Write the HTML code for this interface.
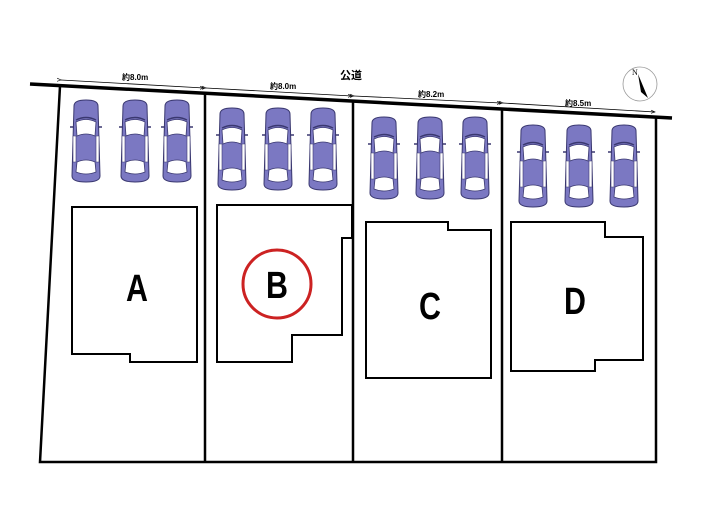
<!DOCTYPE html>
<html><head><meta charset="utf-8"><style>
html,body{margin:0;padding:0;background:#fff;}
svg{display:block;}
</style></head><body>
<svg width="705" height="525" viewBox="0 0 705 525" xmlns="http://www.w3.org/2000/svg">
<defs>
<g id="car">
  <path d="M4,6 Q4,0 16,0 Q28,0 28,6 L29,40 L30,76 Q30,82 16,82 Q2,82 2,76 L3,40 Z" fill="#7b78c2" stroke="#3a3870" stroke-width="1"/>
  <path d="M6,22 Q16,17 26,22 L25,36 Q16,32 7,36 Z" fill="#fff" stroke="#3a3870" stroke-width="0.8"/>
  <path d="M6,20 Q16,15 26,20" fill="none" stroke="#3a3870" stroke-width="1.5"/>
  <path d="M7,62 Q16,58 25,62 L26,72 Q16,76 6,72 Z" fill="#fff" stroke="#3a3870" stroke-width="0.8"/>
  <path d="M3,36 L6,36 L6,62 L3,62 Z M26,36 L29,36 L29,62 L26,62 Z" fill="#fff" stroke="#3a3870" stroke-width="0.6"/>
  <line x1="0" y1="27" x2="4" y2="27" stroke="#3a3870" stroke-width="1.5"/>
  <line x1="28" y1="27" x2="32" y2="27" stroke="#3a3870" stroke-width="1.5"/>
</g>
<marker id="ar" markerWidth="6" markerHeight="6" refX="5" refY="3" orient="auto"><path d="M0,1 L5,3 L0,5" fill="none" stroke="#000" stroke-width="0.8"/></marker>
</defs>

<line x1="30" y1="84" x2="672" y2="118" stroke="#000" stroke-width="3.5"/>
<g stroke="#000" stroke-width="0.8" marker-start="url(#ar)" marker-end="url(#ar)">
<line x1="61" y1="80" x2="204" y2="88"/>
<line x1="206" y1="88" x2="352" y2="96"/>
<line x1="354" y1="96" x2="501" y2="103"/>
<line x1="503" y1="103" x2="655" y2="112"/>
</g>
<g font-family="Liberation Sans, Noto Sans CJK JP, sans-serif" font-size="8" font-weight="bold">
<text x="122" y="80">約8.0m</text>
<text x="270" y="89">約8.0m</text>
<text x="418" y="97">約8.2m</text>
<text x="565" y="106">約8.5m</text>
</g>
<text x="340" y="79" font-family="Liberation Sans, Noto Sans CJK JP, sans-serif" font-size="11" font-weight="bold">公道</text>

<circle cx="640" cy="84" r="17" fill="#fff" stroke="#999" stroke-width="0.8"/>
<path d="M638,74 L648,98 L641,92 Z" fill="#000"/>
<text x="632" y="75" font-family="Liberation Serif, serif" font-size="8">N</text>

<g stroke="#000" stroke-width="2.5" fill="none">
<path d="M60,86 L40,462 L656,462 L656,116"/>
<line x1="205" y1="93" x2="205" y2="462"/>
<line x1="353" y1="101" x2="353" y2="462"/>
<line x1="502" y1="108" x2="502" y2="462"/>
</g>

<use href="#car" x="70" y="100"/>
<use href="#car" x="119" y="100"/>
<use href="#car" x="161" y="100"/>
<use href="#car" x="216" y="108"/>
<use href="#car" x="262" y="108"/>
<use href="#car" x="307" y="108"/>
<use href="#car" x="368" y="117"/>
<use href="#car" x="414" y="117"/>
<use href="#car" x="459" y="117"/>
<use href="#car" x="517" y="125"/>
<use href="#car" x="563" y="125"/>
<use href="#car" x="608" y="125"/>

<g stroke="#000" stroke-width="2" fill="#fff">
<path d="M72,207 L197,207 L197,362 L130,362 L130,354 L72,354 Z"/>
<path d="M217,205 L352,205 L352,238 L342,238 L342,335 L292,335 L292,362 L217,362 Z"/>
<path d="M366,222 L448,222 L448,230 L491,230 L491,378 L366,378 Z"/>
<path d="M511,222 L605,222 L605,237 L643,237 L643,360 L595,360 L595,371 L511,371 Z"/>
</g>
<circle cx="277" cy="284" r="34" fill="none" stroke="#cc2222" stroke-width="3"/>
<g font-family="Liberation Sans, sans-serif" font-size="38" font-weight="bold" text-anchor="middle">
<text x="137" y="301" transform="translate(137 0) scale(0.8 1) translate(-137 0)">A</text>
<text x="277" y="298" transform="translate(277 0) scale(0.8 1) translate(-277 0)">B</text>
<text x="430" y="319" transform="translate(430 0) scale(0.8 1) translate(-430 0)">C</text>
<text x="575" y="314" transform="translate(575 0) scale(0.8 1) translate(-575 0)">D</text>
</g>
</svg>
</body></html>
